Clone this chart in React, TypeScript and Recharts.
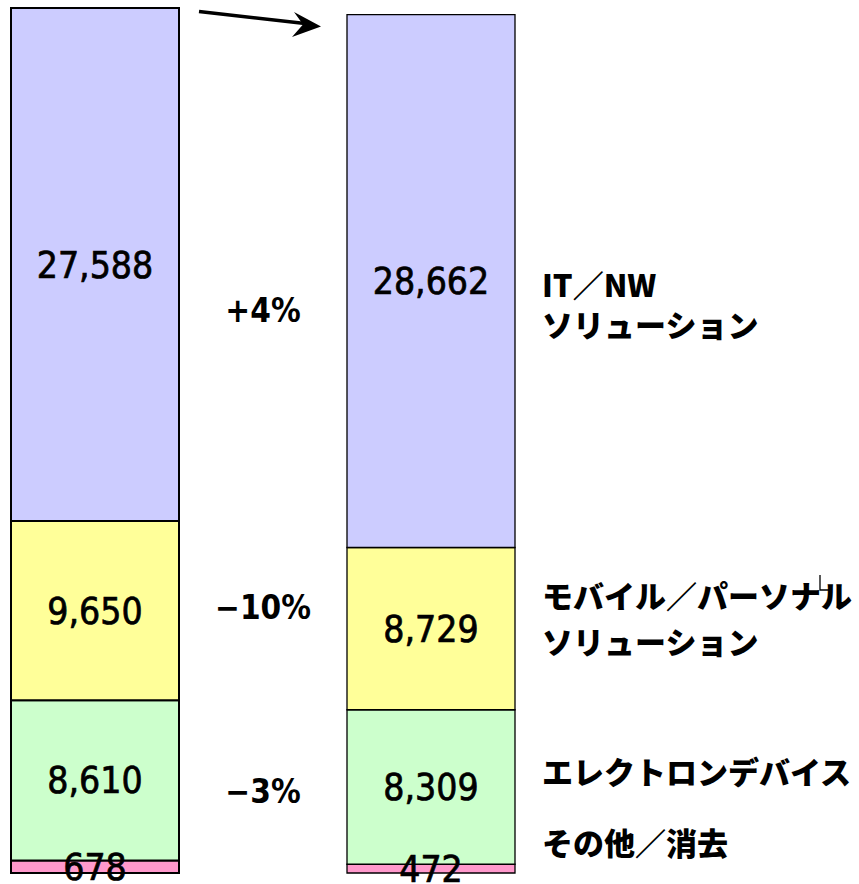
import React from "react";
import {
  Bar,
  BarChart,
  Cell,
  LabelList,
  ReferenceDot,
  XAxis,
  YAxis,
} from "recharts";

// periods (middle slot is the gap holding the change %)
const periods = ["前期", "増減", "当期"];

// stacked segments, bottom to top
const otherValues = [678, null, 472];
const electronValues = [8610, null, 8309];
const mobileValues = [9650, null, 8729];
const itNwValues = [27588, null, 28662];

// change labels and the level (in data units) they sit at
const changeTexts = ["+4%", "−10%", "−3%"];
const changeLevels = [30300, 14300, 4400];

// segment names shown to the right of the current bar
const segmentNames = [
  ["IT／NW", "ソリューション"],
  ["モバイル／パーソナル", "ソリューション"],
  ["エレクトロンデバイス"],
  ["その他／消去"],
];
const segmentNameLevels = [30970, 14255, 4800, 970];
const segmentLineGaps = [40, 46, 0, 0];

const colors = {
  itNw: "#CCCCFF",
  mobile: "#FFFF99",
  electron: "#CCFFCC",
  other: "#FF99CC",
};

const data = periods.map((period, i) => ({
  period,
  other: otherValues[i],
  electron: electronValues[i],
  mobile: mobileValues[i],
  itNw: itNwValues[i],
}));

const numFont = "'DejaVu Sans Condensed', 'DejaVu Sans', sans-serif";
const jpFont = "'Noto Sans CJK JP', 'Noto Sans', sans-serif";

const fmt = (v: any) => (v == null ? "" : Number(v).toLocaleString("en-US"));

const strokeWidths = [2, null, 1.3];

const renderChange = (text: string) => (props: any) => {
  const { x, y } = props.viewBox;
  return (
    <text
      x={x}
      y={y}
      dy="0.36em"
      textAnchor="middle"
      fontFamily={numFont}
      fontStretch="condensed"
      fontWeight="bold"
      fontSize={33}
      fill="#000"
    >
      {text}
    </text>
  );
};

const renderName = (lines: string[], gap: number) => (props: any) => {
  const { x, y } = props.viewBox;
  return (
    <text
      x={x + 111}
      y={y}
      fontFamily={jpFont}
      fontWeight={900}
      fontSize={31}
      fill="#000"
    >
      {lines.map((line, i) => (
        <tspan key={i} x={x + 111} dy={i === 0 ? 0 : gap}>
          {line}
        </tspan>
      ))}
    </text>
  );
};

const series: Array<keyof typeof colors> = ["other", "electron", "mobile", "itNw"];

export default function App() {
  return (
    <div style={{ position: "absolute", left: 0, top: 0, width: 859, height: 884 }}>
      <BarChart
        width={859}
        height={884}
        data={data}
        margin={{ top: 0, right: 253, bottom: 11, left: 0 }}
        barCategoryGap={0}
        style={{ overflow: "hidden" }}
      >
        <XAxis
          dataKey="period"
          type="category"
          height={0}
          tick={false}
          tickLine={false}
          axisLine={{ stroke: "#000", strokeWidth: 1.5 }}
          padding={{ left: 11, right: 91 }}
        />
        <YAxis hide type="number" domain={[0, 46960]} />

        {series.map((key) => (
          <Bar
            key={key}
            dataKey={key}
            stackId="sales"
            fill={colors[key]}
            isAnimationActive={false}
          >
            {data.map((_, i) => (
              <Cell
                key={i}
                stroke="#000"
                strokeWidth={strokeWidths[i] ?? 0}
              />
            ))}
            <LabelList
              dataKey={key}
              position="center"
              formatter={fmt}
              fill="#000"
              stroke="#000"
              strokeWidth={0.7}
              fontSize={37}
              fontFamily={numFont}
              fontStretch="condensed"
            />
          </Bar>
        ))}

        {changeTexts.map((t, i) => (
          <ReferenceDot
            key={t}
            x={periods[1]}
            y={changeLevels[i]}
            r={0}
            fill="none"
            stroke="none"
            ifOverflow="visible"
            label={renderChange(t)}
          />
        ))}

        {segmentNames.map((lines, i) => (
          <ReferenceDot
            key={lines[0]}
            x={periods[2]}
            y={segmentNameLevels[i]}
            r={0}
            fill="none"
            stroke="none"
            ifOverflow="visible"
            label={renderName(lines, segmentLineGaps[i])}
          />
        ))}
      </BarChart>

      <svg
        width={859}
        height={884}
        style={{ position: "absolute", left: 0, top: 0, pointerEvents: "none" }}
      >
        <line x1={199} y1={11.5} x2={305} y2={23.5} stroke="#000" strokeWidth={3.5} />
        <path d="M321,26.5 L294,12 L303,24.5 L292,37 Z" fill="#000" />
        <path d="M820,575 V590 H829" fill="none" stroke="#000" strokeWidth={1.3} />
      </svg>
    </div>
  );
}
